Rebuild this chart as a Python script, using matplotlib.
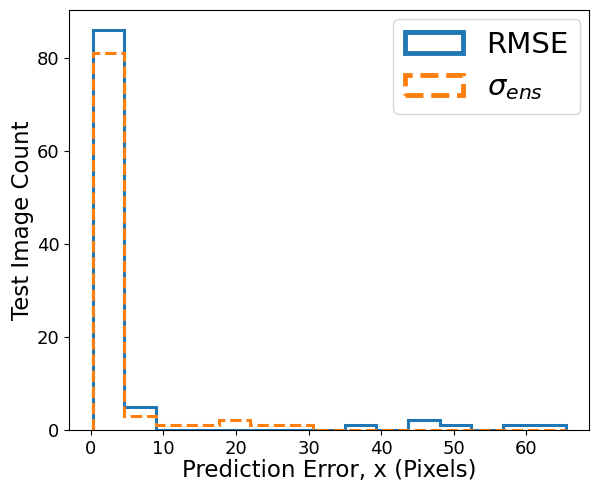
import numpy as np
import matplotlib
matplotlib.use("Agg")
import matplotlib.pyplot as plt

# histogram bin edges (15 bins) and counts
bin_edges = np.linspace(0.28, 65.4, 16)
rmse_counts = [86, 5, 0, 0, 0, 0, 0, 0, 1, 0, 2, 1, 0, 1, 1]
sigma_counts = [81, 3, 1, 1, 2, 1, 1, 0, 0, 0, 0, 0, 0, 0, 0]

centers = 0.5 * (bin_edges[:-1] + bin_edges[1:])

fig, ax = plt.subplots(figsize=(5.91, 4.84), dpi=100)
ax.hist(centers, bins=bin_edges, weights=rmse_counts, histtype="step",
        linewidth=2.2, color="#1f77b4", label="RMSE")
ax.hist(centers, bins=bin_edges, weights=sigma_counts, histtype="step",
        linewidth=2.2, linestyle="--", color="#ff7f0e", label=r"$\sigma_{ens}$")

ax.set_xlabel("Prediction Error, x (Pixels)", fontsize=16.5, labelpad=1)
ax.set_ylabel("Test Image Count", fontsize=16.5, labelpad=2)
ax.tick_params(labelsize=13)
leg = ax.legend(fontsize=21, loc="upper right", borderaxespad=0.3)
for h in leg.legend_handles:
    h.set_linewidth(3.5)

plt.subplots_adjust(left=0.117, right=0.997, bottom=0.112, top=0.979)
plt.savefig("out.png")
